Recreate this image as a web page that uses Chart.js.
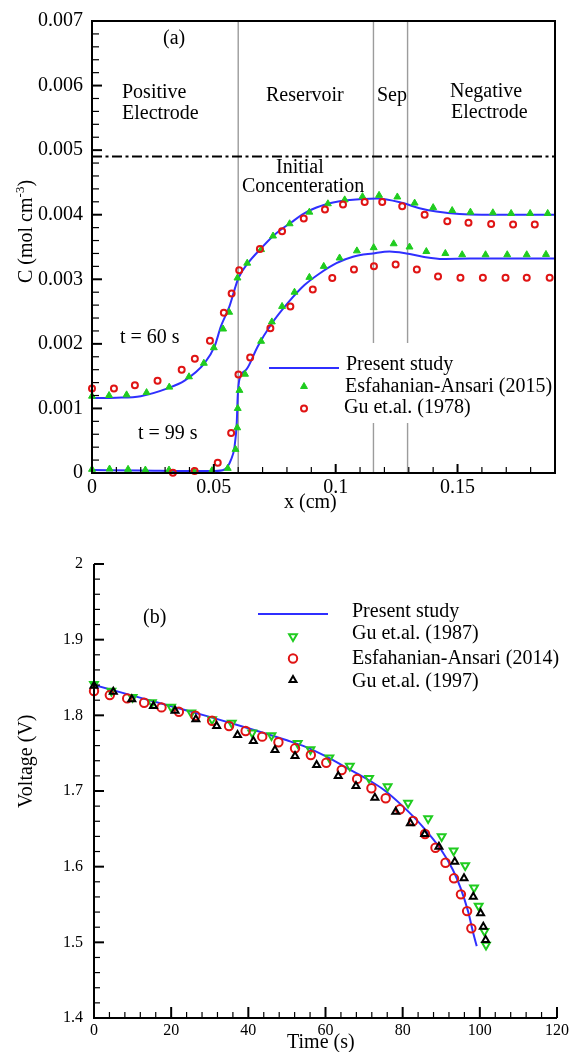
<!DOCTYPE html>
<html>
<head>
<meta charset="utf-8">
<script src="https://cdn.jsdelivr.net/npm/chart.js@4.4.1/dist/chart.umd.min.js"></script>
<style>
  html, body { margin: 0; padding: 0; background: #fff; }
  #page { position: relative; width: 571px; height: 1052px; overflow: hidden; }
  #ca { position: absolute; left: 0; top: 0; }
  #cb { position: absolute; left: 0; top: 520px; }
</style>
</head>
<body>
<div id="page">
  <canvas id="ca" width="571" height="520"></canvas>
  <canvas id="cb" width="571" height="532"></canvas>
</div>
<script>
// ---------------- Panel (a): electrolyte concentration across the cell ----------------
const xTicksA = [0, 0.05, 0.1, 0.15];
const xTickLabelsA = ['0', '0.05', '0.1', '0.15'];
const yTicksA = [0, 0.001, 0.002, 0.003, 0.004, 0.005, 0.006, 0.007];
const yTickLabelsA = ['0', '0.001', '0.002', '0.003', '0.004', '0.005', '0.006', '0.007'];
const regionBoundsA = [0.06, 0.1155, 0.1295];   // positive | reservoir | separator | negative
const initialConc = 0.0049;

// present study, t = 60 s
const xStudy60 = [0, 0.01, 0.02, 0.031, 0.038, 0.0462, 0.0503, 0.0529, 0.0564, 0.0585, 0.0601, 0.064, 0.0694, 0.0749, 0.0817, 0.0885, 0.0967, 0.1016, 0.1112, 0.117, 0.1276, 0.1344, 0.1413, 0.1508, 0.16, 0.19];
const cStudy60 = [0.00116, 0.001165, 0.00119, 0.00131, 0.00143, 0.0017, 0.00196, 0.00227, 0.00258, 0.00284, 0.00302, 0.00325, 0.00348, 0.00369, 0.00388, 0.00405, 0.00417, 0.00421, 0.004245, 0.00425, 0.00418, 0.0041, 0.00405, 0.00401, 0.004, 0.004];
// present study, t = 99 s
const xStudy99 = [0, 0.02, 0.04, 0.0503, 0.0544, 0.0571, 0.0585, 0.0594, 0.0598, 0.0605, 0.0633, 0.068, 0.0735, 0.0803, 0.0872, 0.0934, 0.1003, 0.1071, 0.1153, 0.1221, 0.129, 0.1358, 0.144, 0.155, 0.19];
const cStudy99 = [0.000045, 0.00004, 0.00003, 0.00003, 0.000054, 0.00021, 0.00041, 0.00078, 0.00119, 0.00145, 0.0016, 0.00196, 0.0023, 0.00263, 0.00291, 0.00309, 0.00325, 0.00335, 0.0034, 0.00343, 0.0034, 0.00335, 0.003315, 0.00332, 0.00332];

// Esfahanian-Ansari (2015)
const xEsf60 = [0, 0.007, 0.0142, 0.0224, 0.0317, 0.0398, 0.0459, 0.05, 0.0538, 0.0563, 0.0597, 0.0637, 0.0694, 0.0743, 0.0811, 0.0892, 0.0968, 0.1037, 0.111, 0.1178, 0.1253, 0.1324, 0.14, 0.1478, 0.1553, 0.1645, 0.172, 0.1798, 0.187];
const cEsf60 = [0.00119, 0.0012, 0.00121, 0.001245, 0.00133, 0.00149, 0.0017, 0.00194, 0.00223, 0.00249, 0.00302, 0.00325, 0.00346, 0.00367, 0.00386, 0.00404, 0.00417, 0.00423, 0.00428, 0.0043, 0.004275, 0.00418, 0.00411, 0.004065, 0.00404, 0.00403, 0.00402, 0.00402, 0.00402];
const xEsf99 = [0, 0.0072, 0.0148, 0.0219, 0.0316, 0.0418, 0.0492, 0.0557, 0.0589, 0.0596, 0.0598, 0.0605, 0.0628, 0.0694, 0.0738, 0.078, 0.0831, 0.0892, 0.0951, 0.1016, 0.1087, 0.1156, 0.1238, 0.1303, 0.1372, 0.145, 0.1519, 0.1615, 0.1704, 0.1784, 0.1863];
const cEsf99 = [0.000057, 0.000062, 0.000057, 0.000046, 0.000046, 0.000031, 0.000036, 0.000072, 0.000366, 0.0007, 0.001, 0.00128, 0.00153, 0.00204, 0.00234, 0.00258, 0.0028, 0.00303, 0.0032, 0.00333, 0.00344, 0.00349, 0.00355, 0.0035, 0.00343, 0.0034, 0.00338, 0.00338, 0.00338, 0.00338, 0.003385];

// Gu et.al. (1978)
const xGu60 = [0, 0.009, 0.0176, 0.0269, 0.0368, 0.0422, 0.0484, 0.0541, 0.0573, 0.0604, 0.0689, 0.078, 0.0869, 0.0956, 0.103, 0.1119, 0.1191, 0.1273, 0.1365, 0.1458, 0.1545, 0.1638, 0.1728, 0.1817];
const cGu60 = [0.00131, 0.00131, 0.00136, 0.00143, 0.0016, 0.00177, 0.00205, 0.00248, 0.00278, 0.00314, 0.00347, 0.003745, 0.00394, 0.00408, 0.00416, 0.004195, 0.004195, 0.00413, 0.004, 0.0039, 0.003875, 0.003855, 0.00385, 0.00385];
const xGu99 = [0.0332, 0.0421, 0.0516, 0.0571, 0.0601, 0.0649, 0.0732, 0.0814, 0.0906, 0.0986, 0.1075, 0.1157, 0.1246, 0.1333, 0.142, 0.1512, 0.1604, 0.1697, 0.1784, 0.1878];
const cGu99 = [0.000005, 0.000031, 0.00016, 0.00062, 0.001525, 0.00179, 0.00224, 0.00258, 0.00284, 0.00302, 0.00315, 0.0032, 0.00323, 0.00315, 0.003045, 0.003025, 0.003025, 0.003025, 0.003025, 0.003025];

// ---------------- Panel (b): discharge voltage ----------------
const xTicksB = [0, 20, 40, 60, 80, 100, 120];
const xTickLabelsB = ['0', '20', '40', '60', '80', '100', '120'];
const yTicksB = [1.4, 1.5, 1.6, 1.7, 1.8, 1.9, 2];
const yTickLabelsB = ['1.4', '1.5', '1.6', '1.7', '1.8', '1.9', '2'];

const tStudy = [0, 10, 20, 30, 40, 50, 55, 60, 65, 70, 75, 80, 85, 90, 93, 95, 97, 98.3, 99.2];
const vStudy = [1.84, 1.826, 1.812, 1.798, 1.783, 1.767, 1.758, 1.746, 1.732, 1.718, 1.702, 1.68, 1.654, 1.622, 1.596, 1.572, 1.54, 1.512, 1.495];

const tGu1987 = [0, 4.5, 10, 15, 20, 25.2, 30.6, 35.7, 41, 46, 52.8, 56.1, 61, 66.3, 71.3, 76.1, 81.4, 86.6, 90.1, 93.2, 96.2, 98.5, 99.7, 101.2, 101.6];
const vGu1987 = [1.841, 1.832, 1.824, 1.817, 1.811, 1.8035, 1.7945, 1.79, 1.777, 1.7735, 1.763, 1.755, 1.744, 1.733, 1.717, 1.706, 1.684, 1.6635, 1.64, 1.621, 1.6015, 1.572, 1.548, 1.5145, 1.4965];

const tEsf2014 = [0, 4.1, 8.6, 13, 17.5, 22, 26.3, 30.6, 35, 39.3, 43.6, 47.8, 52.1, 56.2, 60.2, 64.2, 68.2, 71.9, 75.6, 79.3, 82.7, 85.8, 88.5, 91.1, 93.3, 95.1, 96.7, 97.8];
const vEsf2014 = [1.832, 1.8268, 1.8224, 1.8166, 1.8105, 1.8047, 1.7995, 1.7929, 1.7859, 1.7793, 1.7718, 1.7644, 1.7564, 1.7476, 1.7374, 1.7278, 1.716, 1.7036, 1.6904, 1.6758, 1.6604, 1.6432, 1.625, 1.6052, 1.5846, 1.5634, 1.5413, 1.5185];

const tGu1997 = [0, 5, 9.8, 15.4, 21, 26.4, 31.8, 37.2, 41.3, 46.9, 52.1, 57.7, 63.3, 67.9, 72.8, 78.2, 82, 85.7, 89.4, 93.5, 95.9, 98.3, 100.2, 100.9, 101.5];
const vGu1997 = [1.8392, 1.8313, 1.8212, 1.8124, 1.8062, 1.7948, 1.7859, 1.774, 1.7661, 1.7542, 1.7463, 1.7344, 1.7198, 1.7066, 1.6912, 1.6727, 1.6573, 1.6432, 1.6264, 1.6066, 1.5846, 1.5603, 1.5383, 1.5206, 1.503];

// ---------------- shared helpers ----------------
const SERIF = '"Liberation Serif", "Times New Roman", Times, serif';
const BLUE = '#2f2fff';
const GREEN = '#1fcc1f';
const RED = '#e01414';

function pts(xs, ys) { return xs.map((x, i) => ({ x: x, y: ys[i] })); }
function fixedTicks(values) { return (scale) => { scale.ticks = values.map(v => ({ value: v })); }; }
function tickText(values, labels) { return (v) => { const i = values.indexOf(v); return i < 0 ? '' : labels[i]; }; }

function marker(ctx, style, x, y, radius, rotation, fill, stroke, bw) {
  ctx.save();
  ctx.fillStyle = fill; ctx.strokeStyle = stroke; ctx.lineWidth = bw;
  if (window.Chart && Chart.helpers && Chart.helpers.drawPoint) {
    Chart.helpers.drawPoint(ctx, { pointStyle: style, radius: radius, rotation: rotation, borderWidth: bw }, x, y);
  } else {
    ctx.beginPath();
    if (style === 'circle') ctx.arc(x, y, radius, 0, Math.PI * 2);
    else {
      let a = rotation * Math.PI / 180;
      for (let k = 0; k < 3; k++) {
        const px = x + Math.sin(a) * radius, py = y - Math.cos(a) * radius;
        k ? ctx.lineTo(px, py) : ctx.moveTo(px, py);
        a += Math.PI * 2 / 3;
      }
      ctx.closePath();
    }
    ctx.fill(); if (bw > 0) ctx.stroke();
  }
  ctx.restore();
}

// inward major and minor ticks on the left and bottom axes
function drawInwardTicks(ctx, chart, cfg) {
  const { x, y } = chart.scales;
  const ca = chart.chartArea;
  ctx.save();
  ctx.strokeStyle = '#000';
  ctx.lineCap = 'butt';
  const nY = Math.round((y.max - y.min) / cfg.yMinor);
  for (let k = 0; k <= nY; k++) {
    const v = y.min + k * cfg.yMinor;
    const major = cfg.yMajor.some(m => Math.abs(m - v) < cfg.yMinor / 10);
    const py = y.getPixelForValue(v);
    ctx.lineWidth = major ? 2 : 1.2;
    ctx.beginPath(); ctx.moveTo(ca.left, py); ctx.lineTo(ca.left + (major ? cfg.yMajorLen : cfg.yMinorLen), py); ctx.stroke();
  }
  const nX = Math.round((x.max - x.min) / cfg.xMinor);
  for (let k = 0; k <= nX; k++) {
    const v = x.min + k * cfg.xMinor;
    const major = cfg.xMajor.some(m => Math.abs(m - v) < cfg.xMinor / 10);
    const px = x.getPixelForValue(v);
    ctx.lineWidth = major ? 2 : 1.2;
    ctx.beginPath(); ctx.moveTo(px, ca.bottom); ctx.lineTo(px, ca.bottom - (major ? cfg.xMajorLen : cfg.xMinorLen)); ctx.stroke();
  }
  ctx.restore();
}

function text(ctx, s, x, y, size) {
  ctx.font = (size || 20) + 'px ' + SERIF;
  ctx.fillStyle = '#000';
  ctx.textAlign = 'left';
  ctx.textBaseline = 'alphabetic';
  ctx.fillText(s, x, y);
}

function axisOptions(min, max, ticks, labels, fontSize, pad, fit) {
  return {
    type: 'linear', min: min, max: max,
    grid: { display: false, drawTicks: false },
    border: { display: false },
    afterBuildTicks: fixedTicks(ticks),
    afterFit: fit,
    ticks: {
      autoSkip: false, maxRotation: 0, padding: pad, color: '#000',
      font: { family: SERIF, size: fontSize },
      callback: tickText(ticks, labels)
    }
  };
}

// ---------------- panel (a) ----------------
const legendGapA = [343, 423];

const panelAPlugin = {
  id: 'panelA',
  beforeDatasetsDraw(chart) {
    const { ctx, chartArea: ca } = chart;
    const x = chart.scales.x;
    ctx.save();
    ctx.strokeStyle = '#9c9c9c';
    ctx.lineWidth = 1.4;
    regionBoundsA.forEach((b, i) => {
      const px = x.getPixelForValue(b);
      ctx.beginPath();
      if (i === 0) { ctx.moveTo(px, ca.top); ctx.lineTo(px, ca.bottom); }
      else {
        ctx.moveTo(px, ca.top); ctx.lineTo(px, legendGapA[0]);
        ctx.moveTo(px, legendGapA[1]); ctx.lineTo(px, ca.bottom);
      }
      ctx.stroke();
    });
    ctx.restore();
  },
  afterDraw(chart) {
    const { ctx, chartArea: ca } = chart;
    ctx.save();
    ctx.strokeStyle = '#000';
    ctx.lineWidth = 2;
    ctx.strokeRect(ca.left, ca.top, ca.right - ca.left, ca.bottom - ca.top);
    ctx.restore();
    drawInwardTicks(ctx, chart, {
      yMajor: yTicksA, yMinor: 0.0002, yMajorLen: 10, yMinorLen: 7,
      xMajor: xTicksA, xMinor: 0.01, xMajorLen: 9, xMinorLen: 6
    });

    text(ctx, '(a)', 163, 44);
    text(ctx, 'Positive', 122, 98);
    text(ctx, 'Electrode', 122, 119);
    text(ctx, 'Reservoir', 266, 101);
    text(ctx, 'Sep', 377, 101);
    text(ctx, 'Negative', 450, 97);
    text(ctx, 'Electrode', 451, 118);
    text(ctx, 'Initial', 276, 173);
    text(ctx, 'Concenteration', 242, 191.5);
    text(ctx, 't = 60 s', 120, 343);
    text(ctx, 't = 99 s', 138, 439);

    // legend
    ctx.save();
    ctx.strokeStyle = BLUE; ctx.lineWidth = 2;
    ctx.beginPath(); ctx.moveTo(269, 368); ctx.lineTo(339, 368); ctx.stroke();
    ctx.restore();
    marker(ctx, 'triangle', 304, 386.5, 4, 0, GREEN, GREEN, 1);
    marker(ctx, 'circle', 304, 408.5, 3, 0, 'rgba(0,0,0,0)', RED, 2);
    text(ctx, 'Present study', 346, 370);
    text(ctx, 'Esfahanian-Ansari (2015)', 345, 391.5);
    text(ctx, 'Gu et.al. (1978)', 344, 412.5);

    // axis titles
    text(ctx, 'x (cm)', 284, 508);
    ctx.save();
    ctx.translate(32, 283);
    ctx.rotate(-Math.PI / 2);
    text(ctx, 'C (mol cm', 0, 0);
    ctx.font = '20px ' + SERIF;
    let w = ctx.measureText('C (mol cm').width;
    text(ctx, '-3', w, -8, 13);
    ctx.font = '13px ' + SERIF;
    w += ctx.measureText('-3').width;
    text(ctx, ')', w, 0);
    ctx.restore();
  }
};

const lineStyle = (data, color, width) => ({
  data: data, showLine: true, borderColor: color, borderWidth: width,
  pointRadius: 0, pointHoverRadius: 0, cubicInterpolationMode: 'monotone', fill: false
});
const pointStyleSet = (data, style, radius, rotation, fill, stroke, bw, order) => ({
  data: data, showLine: false, pointStyle: style, pointRadius: radius, pointRotation: rotation,
  backgroundColor: fill, borderColor: stroke, pointBorderWidth: bw, borderWidth: bw,
  pointHoverRadius: radius, clip: false, order: order
});

new Chart(document.getElementById('ca'), {
  type: 'scatter',
  data: {
    datasets: [
      Object.assign(lineStyle(pts([0, 0.19], [initialConc, initialConc]), '#000', 2), { borderDash: [10, 3.5, 3, 3.5], cubicInterpolationMode: 'default', tension: 0, order: 5 }),
      Object.assign(lineStyle(pts(xStudy60, cStudy60), BLUE, 2), { order: 4 }),
      Object.assign(lineStyle(pts(xStudy99, cStudy99), BLUE, 2), { order: 4 }),
      pointStyleSet(pts(xEsf60, cEsf60), 'triangle', 4, 0, GREEN, GREEN, 1, 2),
      pointStyleSet(pts(xEsf99, cEsf99), 'triangle', 4, 0, GREEN, GREEN, 1, 2),
      pointStyleSet(pts(xGu60, cGu60), 'circle', 3, 0, 'rgba(0,0,0,0)', RED, 2, 1),
      pointStyleSet(pts(xGu99, cGu99), 'circle', 3, 0, 'rgba(0,0,0,0)', RED, 2, 1)
    ]
  },
  options: {
    responsive: false, animation: false, events: [],
    layout: { padding: { top: 21, right: 16, left: 0, bottom: 0 } },
    plugins: { legend: { display: false }, tooltip: { enabled: false } },
    scales: {
      x: axisOptions(0, 0.19, xTicksA, xTickLabelsA, 20, 3, (s) => { s.height = 47; s.paddingLeft = 0; s.paddingRight = 0; }),
      y: axisOptions(0, 0.007, yTicksA, yTickLabelsA, 20, 9, (s) => { s.width = 92; s.paddingTop = 0; s.paddingBottom = 0; })
    }
  },
  plugins: [panelAPlugin]
});

// ---------------- panel (b) ----------------
const panelBPlugin = {
  id: 'panelB',
  afterDraw(chart) {
    const { ctx, chartArea: ca } = chart;
    ctx.save();
    ctx.strokeStyle = '#000';
    ctx.lineWidth = 2;
    ctx.beginPath();
    ctx.moveTo(ca.left, ca.top); ctx.lineTo(ca.left, ca.bottom); ctx.lineTo(ca.right, ca.bottom);
    ctx.stroke();
    ctx.restore();
    drawInwardTicks(ctx, chart, {
      yMajor: yTicksB, yMinor: 0.02, yMajorLen: 10, yMinorLen: 6,
      xMajor: xTicksB, xMinor: 4, xMajorLen: 11, xMinorLen: 6
    });

    text(ctx, '(b)', 143, 103);

    ctx.save();
    ctx.strokeStyle = BLUE; ctx.lineWidth = 2;
    ctx.beginPath(); ctx.moveTo(258, 94); ctx.lineTo(328, 94); ctx.stroke();
    ctx.restore();
    marker(ctx, 'triangle', 293, 116.5, 4.5, 180, 'rgba(0,0,0,0)', GREEN, 2);
    marker(ctx, 'circle', 293, 138.5, 4.2, 0, 'rgba(0,0,0,0)', RED, 2);
    marker(ctx, 'triangle', 293, 160, 4, 0, 'rgba(0,0,0,0)', '#000', 2);
    text(ctx, 'Present study', 352, 96.5);
    text(ctx, 'Gu et.al. (1987)', 352, 119);
    text(ctx, 'Esfahanian-Ansari (2014)', 352, 144);
    text(ctx, 'Gu et.al. (1997)', 352, 166.5);

    text(ctx, 'Time (s)', 287, 528);
    ctx.save();
    ctx.translate(31.5, 288);
    ctx.rotate(-Math.PI / 2);
    text(ctx, 'Voltage (V)', 0, 0);
    ctx.restore();
  }
};

new Chart(document.getElementById('cb'), {
  type: 'scatter',
  data: {
    datasets: [
      Object.assign(lineStyle(pts(tStudy, vStudy), BLUE, 2), { order: 4 }),
      pointStyleSet(pts(tGu1987, vGu1987), 'triangle', 4.5, 180, 'rgba(0,0,0,0)', GREEN, 2, 3),
      pointStyleSet(pts(tEsf2014, vEsf2014), 'circle', 4.2, 0, 'rgba(0,0,0,0)', RED, 2, 2),
      pointStyleSet(pts(tGu1997, vGu1997), 'triangle', 4, 0, 'rgba(0,0,0,0)', '#000', 2, 1)
    ]
  },
  options: {
    responsive: false, animation: false, events: [],
    layout: { padding: { top: 44, right: 14, left: 0, bottom: 0 } },
    plugins: { legend: { display: false }, tooltip: { enabled: false } },
    scales: {
      x: axisOptions(0, 120, xTicksB, xTickLabelsB, 16, 3, (s) => { s.height = 34; s.paddingLeft = 0; s.paddingRight = 0; }),
      y: axisOptions(1.4, 2, yTicksB, yTickLabelsB, 16, 11, (s) => { s.width = 94; s.paddingTop = 0; s.paddingBottom = 0; })
    }
  },
  plugins: [panelBPlugin]
});
</script>
</body>
</html>
